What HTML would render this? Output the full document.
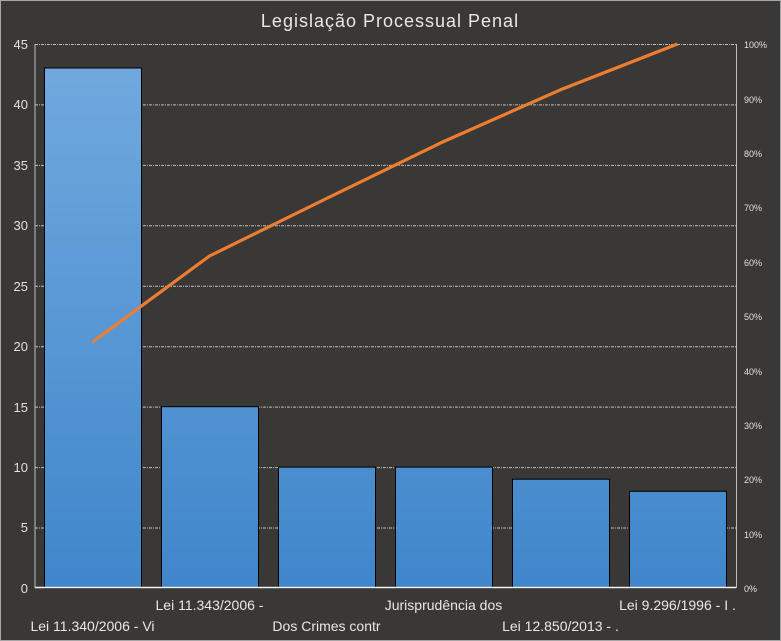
<!DOCTYPE html>
<html><head><meta charset="utf-8"><style>
html,body{margin:0;padding:0;background:#3a3836;}
svg{display:block;font-family:"Liberation Sans",sans-serif;}
</style></head><body>
<svg width="781" height="641" viewBox="0 0 781 641" xmlns="http://www.w3.org/2000/svg">
<defs>
<linearGradient id="g" gradientUnits="userSpaceOnUse" x1="0" y1="60" x2="0" y2="588">
<stop offset="0" stop-color="#71a9de"/><stop offset="1" stop-color="#3f86cb"/>
</linearGradient>
</defs>
<rect x="0.5" y="0.5" width="780" height="640" fill="#3a3836" stroke="#a6a6a6"/>
<text x="390" y="27" fill="#e8e8e8" font-size="18" text-anchor="middle" letter-spacing="1">Legislação Processual Penal</text>
<g stroke="#bdbdbd" stroke-width="1" stroke-dasharray="3,1,1,1" fill="none">
<line x1="35" y1="44.5" x2="736" y2="44.5"/>
<line x1="35" y1="104.9" x2="736" y2="104.9"/>
<line x1="35" y1="165.4" x2="736" y2="165.4"/>
<line x1="35" y1="225.8" x2="736" y2="225.8"/>
<line x1="35" y1="286.2" x2="736" y2="286.2"/>
<line x1="35" y1="346.7" x2="736" y2="346.7"/>
<line x1="35" y1="407.1" x2="736" y2="407.1"/>
<line x1="35" y1="467.6" x2="736" y2="467.6"/>
<line x1="35" y1="528" x2="736" y2="528"/>
</g>
<line x1="35" y1="44" x2="35" y2="588" stroke="#bdbdbd"/>
<line x1="736.5" y1="44" x2="736.5" y2="588" stroke="#bdbdbd"/>
<g fill="url(#g)" stroke="#000" stroke-width="1">
<rect x="44.5" y="68" width="97" height="520"/>
<rect x="161.5" y="406.7" width="97" height="181.3"/>
<rect x="278.5" y="467.1" width="97" height="120.9"/>
<rect x="395.5" y="467.1" width="97" height="120.9"/>
<rect x="512.5" y="479.2" width="97" height="108.8"/>
<rect x="629.5" y="491.3" width="97" height="96.7"/>
</g>
<line x1="35" y1="587.5" x2="736" y2="587.5" stroke="#f0f0f0" stroke-width="1.5"/>
<polyline points="92.5,342 209.5,256 326.5,198.5 443.5,141.6 560.5,89.8 677.5,44" fill="none" stroke="#ed7d31" stroke-width="3.2" stroke-linejoin="round"/>
<g fill="#e0e0e0" font-size="13" text-anchor="end">
<text x="28" y="49">45</text><text x="28" y="109">40</text><text x="28" y="170">35</text>
<text x="28" y="230">30</text><text x="28" y="291">25</text><text x="28" y="351">20</text>
<text x="28" y="412">15</text><text x="28" y="472">10</text><text x="28" y="532">5</text>
<text x="28" y="593">0</text>
</g>
<g fill="#e0e0e0" font-size="9">
<text x="744" y="48">100%</text><text x="744" y="103">90%</text><text x="744" y="157">80%</text>
<text x="744" y="211">70%</text><text x="744" y="266">60%</text><text x="744" y="320">50%</text>
<text x="744" y="375">40%</text><text x="744" y="429">30%</text><text x="744" y="483">20%</text>
<text x="744" y="538">10%</text><text x="744" y="592">0%</text>
</g>
<g fill="#e8e8e8" font-size="14" text-anchor="middle">
<text x="92.5" y="631">Lei 11.340/2006 - Vi</text>
<text x="209.5" y="610">Lei 11.343/2006 -</text>
<text x="326.5" y="631">Dos Crimes contr</text>
<text x="443.5" y="610">Jurisprudência dos</text>
<text x="560.5" y="631">Lei 12.850/2013 - .</text>
<text x="677.5" y="610">Lei 9.296/1996 - I .</text>
</g>
</svg>
</body></html>
